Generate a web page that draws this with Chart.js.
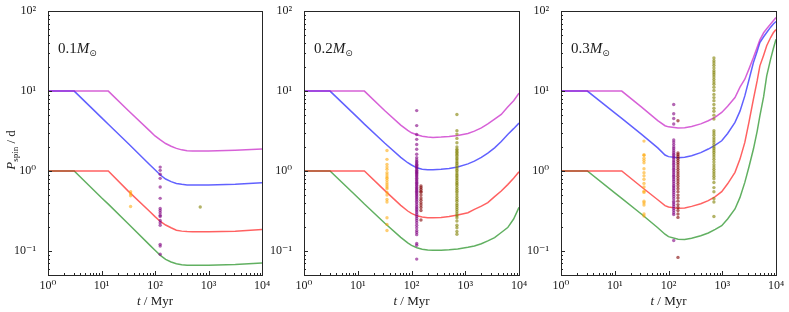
<!DOCTYPE html>
<html><head><meta charset="utf-8">
<script src="https://cdn.jsdelivr.net/npm/chart.js@4.4.0/dist/chart.umd.min.js"></script>
<style>
html,body{margin:0;padding:0;background:#fff;width:789px;height:312px;overflow:hidden;position:relative}
canvas{position:absolute;top:0}
</style></head><body>
<canvas id="c1" width="280" height="312" style="left:0px;width:280px;height:312px"></canvas>
<canvas id="c2" width="280" height="312" style="left:262px;width:280px;height:312px"></canvas>
<canvas id="c3" width="270" height="312" style="left:519px;width:270px;height:312px"></canvas>
<script>
// ---------- data ----------
const massLabels = ['0.1', '0.2', '0.3'];
const xTickValues = [1, 10, 100, 1000, 10000];
const yTickValues = [0.1, 1, 10, 100];

// Panel 1 (0.1 Msun) model tracks
const t1 = [1, 3.09, 10, 13.4, 31.6, 80.7, 100, 126, 158, 200, 251, 316, 398, 501, 1000, 3162, 10000];
const p1Magenta = [10, 10, 10, 10, 5.73, 3.16, 2.75, 2.45, 2.21, 2.04, 1.92, 1.84, 1.80, 1.78, 1.78, 1.82, 1.89];
const p1Blue = [10, 10, 4.66, 3.85, 2.21, 1.19, 1.035, 0.891, 0.794, 0.736, 0.700, 0.681, 0.671, 0.668, 0.670, 0.682, 0.713];
const p1Red = [1, 1, 1, 1, 0.56, 0.309, 0.269, 0.234, 0.211, 0.195, 0.182, 0.177, 0.175, 0.174, 0.174, 0.177, 0.185];
const p1Green = [1, 1, 0.462, 0.385, 0.219, 0.1175, 0.102, 0.0881, 0.0785, 0.0728, 0.0692, 0.0673, 0.0664, 0.0661, 0.0662, 0.0675, 0.0705];

// Panel 2 (0.2 Msun)
const t2 = [1, 3.05, 10, 13.3, 31.6, 63.1, 85.1, 100, 126, 158, 200, 251, 355, 501, 724, 1122, 1479, 1995, 2630, 3516, 4677, 6166, 7943, 10000];
const p2Magenta = [10, 10, 10, 10, 5.71, 3.76, 3.22, 3.01, 2.85, 2.72, 2.66, 2.63, 2.66, 2.71, 2.79, 2.95, 3.16, 3.47, 3.89, 4.47, 5.11, 6.31, 7.59, 9.44];
const p2Blue = [10, 10, 4.66, 3.86, 2.24, 1.48, 1.27, 1.19, 1.096, 1.052, 1.035, 1.035, 1.05, 1.076, 1.122, 1.23, 1.33, 1.48, 1.68, 1.95, 2.34, 2.87, 3.39, 3.98];
const p2Red = [1, 1, 1, 1, 0.573, 0.372, 0.316, 0.295, 0.275, 0.266, 0.261, 0.26, 0.263, 0.269, 0.282, 0.301, 0.331, 0.363, 0.402, 0.479, 0.562, 0.676, 0.813, 0.977];
const p2Green = [1, 1, 0.466, 0.386, 0.224, 0.148, 0.126, 0.1175, 0.1096, 0.1052, 0.1028, 0.1023, 0.1023, 0.1035, 0.1059, 0.1109, 0.1155, 0.123, 0.1334, 0.1469, 0.17, 0.196, 0.251, 0.351];

// Panel 3 (0.3 Msun)
const t3 = [1, 3.09, 10, 13.5, 31.6, 63.1, 86.1, 100, 151, 200, 269, 398, 550, 741, 977, 1259, 1726, 2138, 2630, 3162, 3802, 4467, 5012, 5888, 6714, 7943, 8913, 10000];
const p3Magenta = [10, 10, 10, 10, 6.31, 4.27, 3.69, 3.57, 3.45, 3.47, 3.61, 3.89, 4.26, 4.73, 5.41, 6.46, 8.32, 11.2, 14.1, 19.1, 26.3, 35.5, 43.7, 53.7, 60.3, 69.2, 75.9, 83.2];
const p3Blue = [10, 10, 5.33, 4.55, 2.88, 1.95, 1.585, 1.514, 1.469, 1.486, 1.556, 1.698, 1.884, 2.11, 2.39, 2.95, 4.06, 5.62, 8.71, 14.1, 22.8, 31.6, 40.6, 47.9, 54.1, 63.1, 69.2, 74.1];
const p3Red = [1, 1, 1, 1, 0.631, 0.437, 0.369, 0.355, 0.341, 0.345, 0.361, 0.389, 0.426, 0.479, 0.552, 0.692, 0.962, 1.41, 2.28, 4.17, 7.94, 13.5, 20.7, 28.2, 36.9, 46.8, 53.7, 58.9];
const p3Green = [1, 1, 0.533, 0.455, 0.288, 0.195, 0.162, 0.151, 0.14, 0.139, 0.144, 0.155, 0.168, 0.186, 0.207, 0.251, 0.335, 0.468, 0.721, 1.148, 1.884, 3.16, 4.9, 8.51, 15.5, 25.1, 33.9, 44.7];

// Cluster ages (Myr)
const ageOrange = 35, agePurple = 125, ageMaroon = 150, ageOlive = 700;

// Observed periods (d)
const obs1Orange = [0.55, 0.52, 0.49, 0.36];
const obs1Purple = [1.12, 1.02, 0.91, 0.81, 0.63, 0.455, 0.34, 0.32, 0.30, 0.28, 0.27, 0.24, 0.226, 0.21, 0.121, 0.115, 0.091];
const obs1Maroon = [];
const obs1Olive = [0.355];

const obs2Orange = [1.81, 1.4, 1.21, 1.12, 1.05, 0.95, 0.89, 0.84, 0.81, 0.76, 0.71, 0.67, 0.63, 0.6, 0.54, 0.5, 0.44, 0.41, 0.26, 0.215, 0.18];
const obs2Purple = [5.7, 3.7, 2.87, 2.49, 2.15, 1.87, 1.62, 1.47, 1.38, 1.32, 1.27, 1.22, 1.18, 1.14, 1.1, 1.06, 1.02, 0.99, 0.96, 0.93, 0.9, 0.87, 0.84, 0.81, 0.78, 0.75, 0.72, 0.7, 0.67, 0.65, 0.62, 0.6, 0.58, 0.56, 0.54, 0.52, 0.5, 0.48, 0.46, 0.44, 0.42, 0.4, 0.38, 0.36, 0.345, 0.33, 0.315, 0.3, 0.285, 0.27, 0.255, 0.24, 0.225, 0.21, 0.195, 0.18, 0.17, 0.16, 0.124, 0.118, 0.079];
const obs2Maroon = [0.65, 0.62, 0.59, 0.56, 0.54, 0.5, 0.46, 0.43, 0.4, 0.376, 0.35, 0.32, 0.244];
const obs2Olive = [5.1, 3.2, 2.9, 2.56, 2.26, 2.0, 1.87, 1.8, 1.72, 1.65, 1.58, 1.5, 1.43, 1.37, 1.3, 1.24, 1.18, 1.12, 1.07, 1.02, 0.97, 0.92, 0.88, 0.84, 0.8, 0.76, 0.72, 0.69, 0.66, 0.62, 0.59, 0.56, 0.53, 0.5, 0.47, 0.44, 0.42, 0.39, 0.37, 0.35, 0.33, 0.31, 0.29, 0.275, 0.26, 0.237, 0.21, 0.195, 0.175, 0.162];

const obs3Orange = [2.37, 1.6, 1.57, 1.45, 1.36, 1.27, 1.07, 0.95, 0.87, 0.79, 0.7, 0.63, 0.56, 0.54, 0.42, 0.4, 0.376, 0.29, 0.274];
const obs3Purple = [6.8, 5.2, 4.55, 3.87, 2.44, 2.3, 2.15, 2.0, 1.9, 1.8, 1.7, 1.62, 1.55, 1.48, 1.41, 1.34, 1.28, 1.22, 1.16, 1.1, 1.05, 1.0, 0.95, 0.9, 0.86, 0.82, 0.78, 0.74, 0.7, 0.66, 0.63, 0.6, 0.57, 0.54, 0.51, 0.48, 0.45, 0.42, 0.4, 0.38, 0.36, 0.34, 0.32, 0.3, 0.285, 0.135];
const obs3Maroon = [4.25, 1.68, 1.6, 1.52, 1.44, 1.36, 1.28, 1.2, 1.12, 1.05, 0.98, 0.92, 0.86, 0.8, 0.75, 0.7, 0.65, 0.6, 0.55, 0.5, 0.46, 0.42, 0.38, 0.35, 0.32, 0.29, 0.263, 0.083];
const obs3Olive = [26, 24, 22.5, 21, 19.5, 18, 17, 16, 15, 14, 13, 12.2, 11.2, 10.2, 9.1, 8.3, 7.6, 6.8, 6.1, 5.6, 5.0, 4.47, 3.19, 3.0, 2.8, 2.6, 2.45, 2.3, 2.15, 2.0, 1.9, 1.8, 1.7, 1.6, 1.5, 1.4, 1.3, 1.2, 1.12, 1.05, 0.98, 0.92, 0.86, 0.8, 0.72, 0.62, 0.55, 0.45, 0.41, 0.27];

// ---------- styling ----------
const LINE = {magenta: 'rgba(191,0,191,0.62)', blue: 'rgba(0,0,255,0.62)', red: 'rgba(255,0,0,0.62)', green: 'rgba(0,128,0,0.62)'};
const DOT = {orange: 'rgba(255,165,0,0.55)', purple: 'rgba(128,0,128,0.6)', maroon: 'rgba(128,0,0,0.6)', olive: 'rgba(128,128,0,0.6)'};
const SERIF = '"Liberation Serif", "DejaVu Serif", serif';

const SUP = {'-': '\u207B', '0': '\u2070', '1': '\u00B9', '2': '\u00B2', '3': '\u00B3', '4': '\u2074'};
function powLabel(v) {
  const e = Math.round(Math.log10(v));
  return '10' + String(e).split('').map(c => SUP[c]).join('');
}

function drawParts(ctx, parts, x, y) {
  let cx = x;
  for (const p of parts) {
    ctx.font = p[1];
    ctx.fillText(p[0], cx, y + (p[2] || 0));
    cx += ctx.measureText(p[0]).width;
  }
  return cx - x;
}
function partsWidth(ctx, parts) {
  let w = 0;
  for (const p of parts) { ctx.font = p[1]; w += ctx.measureText(p[0]).width; }
  return w;
}

const deco = {
  id: 'deco',
  afterDraw(chart, args, opts) {
    const ctx = chart.ctx, a = chart.chartArea, x = chart.scales.x, y = chart.scales.y;
    ctx.save();
    ctx.strokeStyle = '#262626';
    ctx.lineWidth = 1;
    ctx.beginPath();
    for (let d = -2; d <= 4; d++) {
      for (let m = 1; m <= 9; m++) {
        const v = m * Math.pow(10, d);
        const L = m === 1 ? 4 : 2;
        if (v >= y.min * 0.999 && v <= y.max * 1.001) {
          const py = Math.round(y.getPixelForValue(v)) + 0.5;
          ctx.moveTo(a.left, py); ctx.lineTo(a.left + L, py);
        }
        if (v >= x.min * 0.999 && v <= x.max * 1.001) {
          const px = Math.round(x.getPixelForValue(v)) + 0.5;
          ctx.moveTo(px, a.bottom); ctx.lineTo(px, a.bottom - L);
        }
      }
    }
    ctx.stroke();
    ctx.strokeRect(Math.round(a.left) + 0.5, Math.round(a.top) + 0.5, Math.round(a.right - a.left), Math.round(a.bottom - a.top));

    ctx.fillStyle = '#1a1a1a';
    ctx.textBaseline = 'alphabetic';
    ctx.textAlign = 'left';
    // mass label
    drawParts(ctx, [
      [opts.mass, '15px ' + SERIF],
      ['M', 'italic 15px ' + SERIF],
      ['\u2299', '9px "DejaVu Sans"', 3]
    ], a.left + 10, 53);
    // x title
    const xp = [['t', 'italic 13px ' + SERIF], [' / Myr', '13px ' + SERIF]];
    const xw = partsWidth(ctx, xp);
    drawParts(ctx, xp, (a.left + a.right) / 2 - xw / 2, 305);
    // y title
    if (opts.ylabel) {
      const yp = [['P', 'italic 13px ' + SERIF], ['spin', '9px ' + SERIF, 3], [' / d', '13px ' + SERIF]];
      const yw = partsWidth(ctx, yp);
      ctx.translate(15, 150);
      ctx.rotate(-Math.PI / 2);
      drawParts(ctx, yp, -yw / 2, 0);
    }
    ctx.restore();
  }
};

function pts(ts, ps) { return ts.map((t, i) => ({x: t, y: ps[i]})); }
function col(age, ps) { return ps.map(p => ({x: age, y: p})); }

function makeChart(id, cfg) {
  const dots = (data, c) => ({type: 'scatter', data, backgroundColor: c, borderWidth: 0, pointRadius: 1.7, pointHoverRadius: 1.7, showLine: false});
  const line = (data, c) => ({type: 'line', data, borderColor: c, borderWidth: 1.5, pointRadius: 0, tension: 0, fill: false});
  new Chart(document.getElementById(id), {
    type: 'scatter',
    data: {datasets: [
      dots(col(ageOrange, cfg.orange), DOT.orange),
      dots(col(agePurple, cfg.purple), DOT.purple),
      dots(col(ageMaroon, cfg.maroon), DOT.maroon),
      dots(col(ageOlive, cfg.olive), DOT.olive),
      line(pts(cfg.t, cfg.magenta), LINE.magenta),
      line(pts(cfg.t, cfg.blue), LINE.blue),
      line(pts(cfg.t, cfg.red), LINE.red),
      line(pts(cfg.t, cfg.green), LINE.green)
    ]},
    options: {
      responsive: false, maintainAspectRatio: false, animation: false, devicePixelRatio: 1,
      layout: {padding: {left: 0, right: cfg.padRight, top: 10, bottom: 0}},
      plugins: {legend: {display: false}, tooltip: {enabled: false}, deco: {mass: cfg.mass, ylabel: cfg.ylabel}},
      scales: {
        x: {
          type: 'logarithmic', min: 1, max: 10000,
          afterBuildTicks: s => { s.ticks = xTickValues.map(v => ({value: v, major: true})); },
          afterFit: s => { s.height = 37; },
          ticks: {autoSkip: false, maxRotation: 0, padding: -4, color: '#1a1a1a', font: {family: SERIF, size: 12}, callback: v => powLabel(v)},
          grid: {display: false}, border: {display: false}
        },
        y: {
          type: 'logarithmic', min: 0.05, max: 100,
          afterBuildTicks: s => { s.ticks = yTickValues.map(v => ({value: v, major: true})); },
          afterFit: s => { s.width = cfg.yWidth; },
          ticks: {autoSkip: false, padding: 4, color: '#1a1a1a', font: {family: SERIF, size: 12}, callback: v => powLabel(v)},
          grid: {display: false}, border: {display: false}
        }
      }
    },
    plugins: [deco]
  });
}

makeChart('c1', {t: t1, magenta: p1Magenta, blue: p1Blue, red: p1Red, green: p1Green,
  orange: obs1Orange, purple: obs1Purple, maroon: obs1Maroon, olive: obs1Olive,
  mass: massLabels[0], ylabel: true, yWidth: 48, padRight: 18});
makeChart('c2', {t: t2, magenta: p2Magenta, blue: p2Blue, red: p2Red, green: p2Green,
  orange: obs2Orange, purple: obs2Purple, maroon: obs2Maroon, olive: obs2Olive,
  mass: massLabels[1], ylabel: false, yWidth: 42, padRight: 23});
makeChart('c3', {t: t3, magenta: p3Magenta, blue: p3Blue, red: p3Red, green: p3Green,
  orange: obs3Orange, purple: obs3Purple, maroon: obs3Maroon, olive: obs3Olive,
  mass: massLabels[2], ylabel: false, yWidth: 42, padRight: 13});
</script>
</body></html>
